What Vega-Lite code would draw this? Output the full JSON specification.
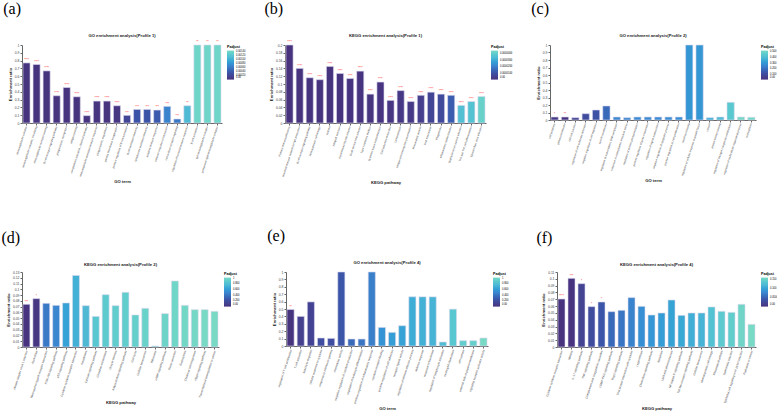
{
  "$schema": "https://vega.github.io/schema/vega-lite/v6.json",
  "background": "white",
  "padding": {"left": 1, "top": 0, "right": 0, "bottom": 0},
  "datasets": {
    "a": [
      {"term": "immunoglobulin complex", "ratio": 0.77, "padj": 0.00001, "sig": "****"},
      {"term": "immunoglobulin complex, circulating", "ratio": 0.75, "padj": 0.00001, "sig": "****"},
      {"term": "immunoglobulin receptor binding", "ratio": 0.668, "padj": 0.00001, "sig": "****"},
      {"term": "B cell receptor signaling pathway", "ratio": 0.349, "padj": 0.00001, "sig": "****"},
      {"term": "phagocytosis, recognition", "ratio": 0.455, "padj": 0.00001, "sig": "****"},
      {"term": "antigen binding", "ratio": 0.336, "padj": 0.00001, "sig": "****"},
      {"term": "complement activation, classical pathway", "ratio": 0.094, "padj": 0.00002, "sig": "****"},
      {"term": "immunoglobulin mediated immune response", "ratio": 0.281, "padj": 0.00002, "sig": "****"},
      {"term": "phagocytosis, engulfment", "ratio": 0.281, "padj": 0.00002, "sig": "****"},
      {"term": "plasma membrane invagination", "ratio": 0.221, "padj": 0.00003, "sig": "****"},
      {"term": "positive regulation of B cell activation", "ratio": 0.098, "padj": 0.0002, "sig": "***"},
      {"term": "B cell mediated immunity", "ratio": 0.174, "padj": 0.00035, "sig": "***"},
      {"term": "lymphocyte mediated immunity", "ratio": 0.174, "padj": 0.00035, "sig": "***"},
      {"term": "adaptive immune response", "ratio": 0.166, "padj": 0.0004, "sig": "***"},
      {"term": "defense response to bacterium", "ratio": 0.213, "padj": 0.00068, "sig": "***"},
      {"term": "cell surface receptor signaling", "ratio": 0.051, "padj": 0.0006, "sig": "***"},
      {"term": "regulation of humoral immune response", "ratio": 0.221, "padj": 0.0011, "sig": "**"},
      {"term": "B cell activation", "ratio": 1, "padj": 0.0014, "sig": "**"},
      {"term": "IgA immunoglobulin complex", "ratio": 1, "padj": 0.0014, "sig": "**"},
      {"term": "pentameric IgM immunoglobulin complex", "ratio": 1, "padj": 0.0014, "sig": "**"}
    ],
    "b": [
      {"term": "Primary immunodeficiency", "ratio": 0.2, "padj": 0.0000001, "sig": "****"},
      {"term": "Intestinal immune network for IgA production", "ratio": 0.14, "padj": 0.0000001, "sig": "****"},
      {"term": "B cell receptor signaling pathway", "ratio": 0.116, "padj": 0.0000002, "sig": "****"},
      {"term": "Hematopoietic cell lineage", "ratio": 0.111, "padj": 0.0000002, "sig": "****"},
      {"term": "Asthma", "ratio": 0.145, "padj": 0.0000003, "sig": "****"},
      {"term": "Allograft rejection", "ratio": 0.127, "padj": 0.0000003, "sig": "****"},
      {"term": "Autoimmune thyroid disease", "ratio": 0.114, "padj": 0.0000004, "sig": "****"},
      {"term": "Graft-versus-host disease", "ratio": 0.133, "padj": 0.0000004, "sig": "****"},
      {"term": "Type I diabetes mellitus", "ratio": 0.074, "padj": 0.0000006, "sig": "****"},
      {"term": "Systemic lupus erythematosus", "ratio": 0.105, "padj": 0.0000008, "sig": "****"},
      {"term": "Cell adhesion molecules", "ratio": 0.058, "padj": 0.000001, "sig": "****"},
      {"term": "Leishmaniasis", "ratio": 0.083, "padj": 0.0000015, "sig": "****"},
      {"term": "Antigen processing and presentation", "ratio": 0.055, "padj": 0.000002, "sig": "****"},
      {"term": "Rheumatoid arthritis", "ratio": 0.071, "padj": 0.000004, "sig": "****"},
      {"term": "Viral myocarditis", "ratio": 0.079, "padj": 0.000006, "sig": "****"},
      {"term": "Phagosome", "ratio": 0.074, "padj": 0.000008, "sig": "****"},
      {"term": "Inflammatory bowel disease", "ratio": 0.071, "padj": 0.000013, "sig": "****"},
      {"term": "Staphylococcus aureus infection", "ratio": 0.045, "padj": 0.000036, "sig": "****"},
      {"term": "Th1 and Th2 cell differentiation", "ratio": 0.055, "padj": 0.000037, "sig": "****"},
      {"term": "Epstein-Barr virus infection", "ratio": 0.068, "padj": 0.000042, "sig": "****"}
    ],
    "c": [
      {"term": "cell periphery", "ratio": 0.04, "padj": 0.03, "sig": "*"},
      {"term": "plasma membrane", "ratio": 0.04, "padj": 0.008, "sig": "**"},
      {"term": "cell-cell junction", "ratio": 0.031, "padj": 0.06, "sig": ""},
      {"term": "regulation of cell-substrate adhesion", "ratio": 0.084, "padj": 0.1, "sig": ""},
      {"term": "negative regulation of cell migration", "ratio": 0.133, "padj": 0.12, "sig": ""},
      {"term": "vesicle membrane", "ratio": 0.187, "padj": 0.18, "sig": ""},
      {"term": "regulation of transcription, DNA-templated", "ratio": 0.04, "padj": 0.25, "sig": ""},
      {"term": "response to endoplasmic reticulum stress", "ratio": 0.031, "padj": 0.25, "sig": ""},
      {"term": "regulation of protein phosphorylation", "ratio": 0.04, "padj": 0.26, "sig": ""},
      {"term": "positive regulation of gene expression", "ratio": 0.04, "padj": 0.26, "sig": ""},
      {"term": "regulation of signal transduction", "ratio": 0.04, "padj": 0.26, "sig": ""},
      {"term": "negative regulation of apoptotic process", "ratio": 0.04, "padj": 0.27, "sig": ""},
      {"term": "positive regulation of cell proliferation", "ratio": 0.04, "padj": 0.27, "sig": ""},
      {"term": "metal ion binding", "ratio": 1, "padj": 0.29, "sig": ""},
      {"term": "regulation of cellular response to growth factor", "ratio": 1, "padj": 0.29, "sig": ""},
      {"term": "cytosol", "ratio": 0.031, "padj": 0.36, "sig": ""},
      {"term": "protein kinase binding", "ratio": 0.04, "padj": 0.4, "sig": ""},
      {"term": "regulation of nitrogen compound metabolism", "ratio": 0.236, "padj": 0.45, "sig": ""},
      {"term": "regulation of multicellular organismal process", "ratio": 0.04, "padj": 0.51, "sig": ""},
      {"term": "nucleoplasm", "ratio": 0.036, "padj": 0.51, "sig": ""}
    ],
    "d": [
      {"term": "Herpes simplex virus 1 infection", "ratio": 0.074, "padj": 0.0005, "sig": "***"},
      {"term": "Alcoholism", "ratio": 0.0838, "padj": 0.03, "sig": "*"},
      {"term": "Neuroactive ligand-receptor interaction", "ratio": 0.0757, "padj": 0.42, "sig": ""},
      {"term": "PI3K-Akt signaling pathway", "ratio": 0.0722, "padj": 0.48, "sig": ""},
      {"term": "p53 signaling pathway", "ratio": 0.0763, "padj": 0.62, "sig": ""},
      {"term": "Cytokine-cytokine receptor interaction", "ratio": 0.124, "padj": 0.7, "sig": ""},
      {"term": "Amoebiasis", "ratio": 0.0716, "padj": 0.75, "sig": ""},
      {"term": "Calcium signaling pathway", "ratio": 0.053, "padj": 0.85, "sig": ""},
      {"term": "Circadian entrainment", "ratio": 0.0907, "padj": 0.88, "sig": ""},
      {"term": "Oocyte meiosis", "ratio": 0.0716, "padj": 0.9, "sig": ""},
      {"term": "Adipocytokine signaling pathway", "ratio": 0.0948, "padj": 0.9, "sig": ""},
      {"term": "Cell cycle", "ratio": 0.0555, "padj": 0.92, "sig": ""},
      {"term": "Cellular senescence", "ratio": 0.067, "padj": 0.94, "sig": ""},
      {"term": "Ribosome", "ratio": 0.0017, "padj": 0.95, "sig": ""},
      {"term": "cAMP signaling pathway", "ratio": 0.0578, "padj": 0.96, "sig": ""},
      {"term": "Renin secretion", "ratio": 0.1144, "padj": 0.97, "sig": ""},
      {"term": "Endocytosis", "ratio": 0.0722, "padj": 0.98, "sig": ""},
      {"term": "Chemical carcinogenesis", "ratio": 0.0647, "padj": 0.99, "sig": ""},
      {"term": "Hippo signaling pathway", "ratio": 0.0647, "padj": 1, "sig": ""},
      {"term": "Transcriptional misregulation in cancer", "ratio": 0.0618, "padj": 1, "sig": ""}
    ],
    "e": [
      {"term": "regulation of T cell proliferation", "ratio": 0.493, "padj": 0.005, "sig": "**"},
      {"term": "T cell activation", "ratio": 0.4, "padj": 0.1, "sig": ""},
      {"term": "leukocyte migration", "ratio": 0.596, "padj": 0.12, "sig": ""},
      {"term": "cellular response to cytokine", "ratio": 0.108, "padj": 0.2, "sig": ""},
      {"term": "response to interferon-gamma", "ratio": 0.103, "padj": 0.2, "sig": ""},
      {"term": "chemokine activity", "ratio": 1, "padj": 0.25, "sig": ""},
      {"term": "negative regulation of cytokine production", "ratio": 0.094, "padj": 0.35, "sig": ""},
      {"term": "regulation of leukocyte differentiation", "ratio": 0.094, "padj": 0.4, "sig": ""},
      {"term": "positive regulation of inflammatory response", "ratio": 1, "padj": 0.45, "sig": ""},
      {"term": "cytokine receptor binding", "ratio": 0.251, "padj": 0.55, "sig": ""},
      {"term": "positive regulation of cell adhesion", "ratio": 0.184, "padj": 0.6, "sig": ""},
      {"term": "receptor ligand activity", "ratio": 0.274, "padj": 0.62, "sig": ""},
      {"term": "regulation of immune effector process", "ratio": 0.664, "padj": 0.68, "sig": ""},
      {"term": "defense response", "ratio": 0.664, "padj": 0.7, "sig": ""},
      {"term": "response to bacterium", "ratio": 0.664, "padj": 0.72, "sig": ""},
      {"term": "regulation of lymphocyte activation", "ratio": 0.054, "padj": 0.78, "sig": ""},
      {"term": "neutrophil chemotaxis", "ratio": 0.498, "padj": 0.85, "sig": ""},
      {"term": "cell surface", "ratio": 0.072, "padj": 0.9, "sig": ""},
      {"term": "external side of plasma membrane", "ratio": 0.072, "padj": 0.92, "sig": ""},
      {"term": "signaling receptor activator activity", "ratio": 0.108, "padj": 1, "sig": ""}
    ],
    "f": [
      {"term": "Cytokine-cytokine receptor interaction", "ratio": 0.0704, "padj": 0.00005, "sig": "****"},
      {"term": "Malaria", "ratio": 0.1007, "padj": 0.0005, "sig": "***"},
      {"term": "IL-17 signaling pathway", "ratio": 0.0929, "padj": 0.02, "sig": "*"},
      {"term": "TNF signaling pathway", "ratio": 0.0592, "padj": 0.03, "sig": "*"},
      {"term": "Complement and coagulation cascades", "ratio": 0.066, "padj": 0.04, "sig": "*"},
      {"term": "cGMP-PKG signaling pathway", "ratio": 0.0518, "padj": 0.055, "sig": ""},
      {"term": "Rap1 signaling pathway", "ratio": 0.0538, "padj": 0.065, "sig": ""},
      {"term": "Viral protein interaction with cytokine", "ratio": 0.0724, "padj": 0.075, "sig": ""},
      {"term": "Legionellosis", "ratio": 0.0596, "padj": 0.085, "sig": ""},
      {"term": "Chemokine signaling pathway", "ratio": 0.0469, "padj": 0.09, "sig": ""},
      {"term": "Apoptosis", "ratio": 0.0499, "padj": 0.095, "sig": ""},
      {"term": "Lipid and atherosclerosis", "ratio": 0.0689, "padj": 0.1, "sig": ""},
      {"term": "NF-kappa B signaling pathway", "ratio": 0.0464, "padj": 0.105, "sig": ""},
      {"term": "Toll-like receptor signaling pathway", "ratio": 0.0499, "padj": 0.11, "sig": ""},
      {"term": "Cellular senescence", "ratio": 0.0499, "padj": 0.115, "sig": ""},
      {"term": "Hematopoietic cell lineage", "ratio": 0.0587, "padj": 0.13, "sig": ""},
      {"term": "Rheumatoid arthritis", "ratio": 0.0523, "padj": 0.14, "sig": ""},
      {"term": "Salmonella infection", "ratio": 0.0508, "padj": 0.145, "sig": ""},
      {"term": "Epithelial cell signaling in H. pylori infection", "ratio": 0.0626, "padj": 0.155, "sig": ""},
      {"term": "Pathways in cancer", "ratio": 0.0332, "padj": 0.16, "sig": ""}
    ]
  },
  "spacing": 42,
  "resolve": {"scale": {"color": "independent"}, "legend": {"color": "independent"}},
  "vconcat": [
    {
      "spacing": 18,
      "resolve": {"scale": {"color": "independent"}, "legend": {"color": "independent"}},
      "hconcat": [
        {
          "title": {"text": "(a)", "anchor": "start", "font": "Liberation Serif", "fontSize": 16, "fontWeight": "normal", "offset": 17, "dx": -5, "color": "#000"},
          "resolve": {"scale": {"color": "independent"}, "legend": {"color": "independent"}},
          "vconcat": [
            {
              "width": 200, "height": 78,
              "title": "GO enrichment analysis(Profile 1)",
              "data": {"name": "a"},
              "encoding": {
                "x": {"field": "term", "type": "nominal", "sort": null, "scale": {"paddingInner": 0.3, "paddingOuter": 0.1}, "axis": {"title": "GO term"}},
                "y": {"field": "ratio", "type": "quantitative", "scale": {"domain": [0, 1], "nice": false}, "axis": {"title": "Enrichment ratio", "values": [0, 0.1, 0.2, 0.3, 0.4, 0.5, 0.6, 0.7, 0.8, 0.9, 1], "format": "~g"}}
              },
              "layer": [
                {"mark": {"type": "bar", "stroke": "#dcd8ee", "strokeWidth": 0.6},
                 "encoding": {"color": {"field": "padj", "type": "quantitative",
                   "scale": {"domain": [0, 0.0003625, 0.000725, 0.0010875, 0.00145], "range": ["#47337e", "#3b55a8", "#3b8ad2", "#4fb9d4", "#78d9c5"]},
                   "legend": {"title": "Padjust", "values": [0, 0.0002, 0.0004, 0.0006, 0.0008, 0.001, 0.0012, 0.0014], "labelExpr": "datum.value == 0 ? '0.00' : format(datum.value, '.5f')"}}}},
                {"mark": {"type": "text", "color": "#ff2a2a", "fontSize": 3, "baseline": "bottom", "dy": -1}, "encoding": {"text": {"field": "sig"}}}
              ]
            }
          ]
        },
        {
          "title": {"text": "(b)", "anchor": "start", "font": "Liberation Serif", "fontSize": 16, "fontWeight": "normal", "offset": 17, "dx": -5, "color": "#000"},
          "resolve": {"scale": {"color": "independent"}, "legend": {"color": "independent"}},
          "vconcat": [
            {
              "width": 201, "height": 78,
              "title": "KEGG enrichment analysis(Profile 1)",
              "data": {"name": "b"},
              "encoding": {
                "x": {"field": "term", "type": "nominal", "sort": null, "scale": {"paddingInner": 0.3, "paddingOuter": 0.1}, "axis": {"title": "KEGG pathway"}},
                "y": {"field": "ratio", "type": "quantitative", "scale": {"domain": [0, 0.2], "nice": false}, "axis": {"title": "Enrichment ratio", "values": [0, 0.02, 0.04, 0.06, 0.08, 0.1, 0.12, 0.14, 0.16, 0.18, 0.2], "format": "~g"}}
              },
              "layer": [
                {"mark": {"type": "bar", "stroke": "#dcd8ee", "strokeWidth": 0.6},
                 "encoding": {"color": {"field": "padj", "type": "quantitative",
                   "scale": {"domain": [0, 0.00001125, 0.0000225, 0.00003375, 0.000045], "range": ["#47337e", "#3b55a8", "#3b8ad2", "#4fb9d4", "#78d9c5"]},
                   "legend": {"title": "Padjust", "values": [0, 0.00001, 0.00002, 0.00003, 0.00004], "labelExpr": "datum.value == 0 ? '0.00' : format(datum.value, '.7f')"}}}},
                {"mark": {"type": "text", "color": "#ff2a2a", "fontSize": 3, "baseline": "bottom", "dy": -1}, "encoding": {"text": {"field": "sig"}}}
              ]
            }
          ]
        },
        {
          "title": {"text": "(c)", "anchor": "start", "font": "Liberation Serif", "fontSize": 16, "fontWeight": "normal", "offset": 17, "dx": -5, "color": "#000"},
          "resolve": {"scale": {"color": "independent"}, "legend": {"color": "independent"}},
          "vconcat": [
            {
              "width": 206, "height": 75,
              "title": "GO enrichment analysis(Profile 2)",
              "data": {"name": "c"},
              "encoding": {
                "x": {"field": "term", "type": "nominal", "sort": null, "scale": {"paddingInner": 0.3, "paddingOuter": 0.1}, "axis": {"title": "GO term"}},
                "y": {"field": "ratio", "type": "quantitative", "scale": {"domain": [0, 1], "nice": false}, "axis": {"title": "Enrichment ratio", "values": [0, 0.1, 0.2, 0.3, 0.4, 0.5, 0.6, 0.7, 0.8, 0.9, 1], "format": "~g"}}
              },
              "layer": [
                {"mark": {"type": "bar", "stroke": "#dcd8ee", "strokeWidth": 0.6},
                 "encoding": {"color": {"field": "padj", "type": "quantitative",
                   "scale": {"domain": [0, 0.13, 0.26, 0.39, 0.52], "range": ["#47337e", "#3b55a8", "#3b8ad2", "#4fb9d4", "#78d9c5"]},
                   "legend": {"title": "Padjust", "values": [0, 0.1, 0.2, 0.3, 0.4, 0.5], "labelExpr": "datum.value == 0 ? '0.00' : format(datum.value, '.3f')"}}}},
                {"mark": {"type": "text", "color": "#ff2a2a", "fontSize": 3, "baseline": "bottom", "dy": -1}, "encoding": {"text": {"field": "sig"}}}
              ]
            }
          ]
        }
      ]
    },
    {
      "spacing": 27,
      "resolve": {"scale": {"color": "independent"}, "legend": {"color": "independent"}},
      "hconcat": [
        {
          "title": {"text": "(d)", "anchor": "start", "font": "Liberation Serif", "fontSize": 16, "fontWeight": "normal", "offset": 17, "dx": -5, "color": "#000"},
          "resolve": {"scale": {"color": "independent"}, "legend": {"color": "independent"}},
          "vconcat": [
            {
              "width": 197, "height": 75,
              "title": "KEGG enrichment analysis(Profile 2)",
              "data": {"name": "d"},
              "encoding": {
                "x": {"field": "term", "type": "nominal", "sort": null, "scale": {"paddingInner": 0.3, "paddingOuter": 0.1}, "axis": {"title": "KEGG pathway", "labelFontSize": 2.9}},
                "y": {"field": "ratio", "type": "quantitative", "scale": {"domain": [0, 0.13], "nice": false}, "axis": {"title": "Enrichment ratio", "values": [0, 0.01, 0.02, 0.03, 0.04, 0.05, 0.06, 0.07, 0.08, 0.09, 0.1, 0.11, 0.12, 0.13], "format": "~g"}}
              },
              "layer": [
                {"mark": {"type": "bar", "stroke": "#dcd8ee", "strokeWidth": 0.6},
                 "encoding": {"color": {"field": "padj", "type": "quantitative",
                   "scale": {"domain": [0, 0.25, 0.5, 0.75, 1], "range": ["#47337e", "#3b55a8", "#3b8ad2", "#4fb9d4", "#78d9c5"]},
                   "legend": {"title": "Padjust", "values": [0, 0.2, 0.4, 0.6, 0.8, 1], "labelExpr": "datum.value == 0 ? '0.00' : datum.value == 1 ? '1' : format(datum.value, '.3f')"}}}},
                {"mark": {"type": "text", "color": "#ff2a2a", "fontSize": 3, "baseline": "bottom", "dy": -1}, "encoding": {"text": {"field": "sig"}}}
              ]
            }
          ]
        },
        {
          "title": {"text": "(e)", "anchor": "start", "font": "Liberation Serif", "fontSize": 16, "fontWeight": "normal", "offset": 17, "dx": -5, "color": "#000"},
          "resolve": {"scale": {"color": "independent"}, "legend": {"color": "independent"}},
          "vconcat": [
            {
              "width": 202, "height": 74,
              "title": "GO enrichment analysis(Profile 4)",
              "data": {"name": "e"},
              "encoding": {
                "x": {"field": "term", "type": "nominal", "sort": null, "scale": {"paddingInner": 0.3, "paddingOuter": 0.1}, "axis": {"title": "GO term", "labelFontSize": 2.9}},
                "y": {"field": "ratio", "type": "quantitative", "scale": {"domain": [0, 1], "nice": false}, "axis": {"title": "Enrichment ratio", "values": [0, 0.1, 0.2, 0.3, 0.4, 0.5, 0.6, 0.7, 0.8, 0.9, 1], "format": "~g"}}
              },
              "layer": [
                {"mark": {"type": "bar", "stroke": "#dcd8ee", "strokeWidth": 0.6},
                 "encoding": {"color": {"field": "padj", "type": "quantitative",
                   "scale": {"domain": [0, 0.25, 0.5, 0.75, 1], "range": ["#47337e", "#3b55a8", "#3b8ad2", "#4fb9d4", "#78d9c5"]},
                   "legend": {"title": "Padjust", "values": [0, 0.2, 0.4, 0.6, 0.8, 1], "labelExpr": "datum.value == 0 ? '0.00' : datum.value == 1 ? '1' : format(datum.value, '.3f')"}}}},
                {"mark": {"type": "text", "color": "#ff2a2a", "fontSize": 3, "baseline": "bottom", "dy": -1}, "encoding": {"text": {"field": "sig"}}}
              ]
            }
          ]
        },
        {
          "title": {"text": "(f)", "anchor": "start", "font": "Liberation Serif", "fontSize": 16, "fontWeight": "normal", "offset": 17, "dx": -5, "color": "#000"},
          "resolve": {"scale": {"color": "independent"}, "legend": {"color": "independent"}},
          "vconcat": [
            {
              "width": 199, "height": 75,
              "title": "KEGG enrichment analysis(Profile 4)",
              "data": {"name": "f"},
              "encoding": {
                "x": {"field": "term", "type": "nominal", "sort": null, "scale": {"paddingInner": 0.3, "paddingOuter": 0.1}, "axis": {"title": "KEGG pathway", "labelFontSize": 2.9}},
                "y": {"field": "ratio", "type": "quantitative", "scale": {"domain": [0, 0.11], "nice": false}, "axis": {"title": "Enrichment ratio", "values": [0, 0.01, 0.02, 0.03, 0.04, 0.05, 0.06, 0.07, 0.08, 0.09, 0.1, 0.11], "format": "~g"}}
              },
              "layer": [
                {"mark": {"type": "bar", "stroke": "#dcd8ee", "strokeWidth": 0.6},
                 "encoding": {"color": {"field": "padj", "type": "quantitative",
                   "scale": {"domain": [0, 0.04, 0.08, 0.12, 0.16], "range": ["#47337e", "#3b55a8", "#3b8ad2", "#4fb9d4", "#78d9c5"]},
                   "legend": {"title": "Padjust", "values": [0, 0.05, 0.1, 0.15], "labelExpr": "datum.value == 0 ? '0.00' : datum.value == 0.05 ? '0.0500' : format(datum.value, '.3f')"}}}},
                {"mark": {"type": "text", "color": "#ff2a2a", "fontSize": 3, "baseline": "bottom", "dy": -1}, "encoding": {"text": {"field": "sig"}}}
              ]
            }
          ]
        }
      ]
    }
  ],
  "config": {
    "font": "Liberation Sans",
    "view": {"stroke": null},
    "axis": {"labelFontSize": 3.4, "titleFontSize": 4.2, "titleFontWeight": "bold", "domainColor": "#666", "tickColor": "#666", "tickSize": 2, "labelPadding": 1, "grid": false, "labelColor": "#444", "titleColor": "#222", "labelOverlap": false},
    "axisX": {"labelAngle": -72, "titlePadding": 3, "labelFontSize": 2.7},
    "axisY": {"titlePadding": 2},
    "legend": {"titleFontSize": 3.6, "labelFontSize": 2.6, "gradientLength": 29, "gradientThickness": 7, "offset": 5, "titleFontWeight": "bold", "labelOverlap": false, "titlePadding": 2, "labelOffset": 1.5, "gradientStrokeColor": "#dcd8ee"},
    "title": {"fontSize": 4.2, "fontWeight": "bold", "offset": 3, "color": "#222"},
    "concat": {"spacing": 20}
  }
}
